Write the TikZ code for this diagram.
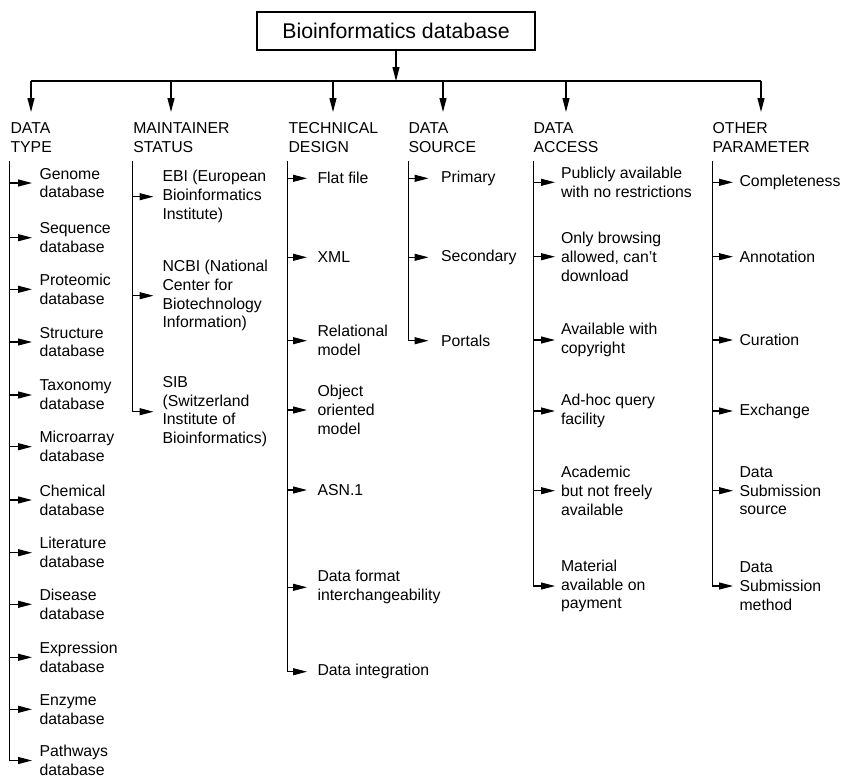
\documentclass[tikz,border=0pt]{standalone}
\usepackage{fontspec}
\setmainfont{Liberation Sans}
\usetikzlibrary{arrows.meta}

\begin{document}
\begin{tikzpicture}[x=1pt, y=-1pt, line width=1.1pt, >={Triangle[length=14pt,width=7pt]},
  every node/.style={anchor=west, align=left, inner sep=0pt, font=\fontsize{15.8}{18.8}\selectfont},
  head/.style={anchor=north west, font=\fontsize{15.8}{19}\selectfont}]
\useasboundingbox (0,0) rectangle (842,777);
\node[draw, anchor=center, minimum width=278pt, minimum height=38pt, font=\fontsize{21.3}{24}\selectfont] (root) at (396,31) {Bioinformatics database};
\coordinate (hub) at (396,81);
\coordinate (b1) at (31,81);
\coordinate (b2) at (171,81);
\coordinate (b3) at (333,81);
\coordinate (b4) at (443,81);
\coordinate (b5) at (566,81);
\coordinate (b6) at (761,81);
% column headings
\node[head] (type) at (10,122) {DATA\\TYPE};
\node[head] (maint) at (132.7,122) {MAINTAINER\\STATUS};
\node[head] (tech) at (288,122) {TECHNICAL\\DESIGN};
\node[head] (src) at (408,122) {DATA\\SOURCE};
\node[head] (acc) at (533,122) {DATA\\ACCESS};
\node[head] (oth) at (712,122) {OTHER\\PARAMETER};
\coordinate (s1) at (9.7,161);
\coordinate (s2) at (132.7,161);
\coordinate (s3) at (287.7,161);
\coordinate (s4) at (408.3,161);
\coordinate (s5) at (533.3,161);
\coordinate (s6) at (712.3,161);
% data type
\node (gen) at (39,183) {Genome\\database};
\node (seq) at (39,237.7) {Sequence\\database};
\node (prot) at (39,289.3) {Proteomic\\database};
\node (struc) at (39,342) {Structure\\database};
\node (tax) at (39,395) {Taxonomy\\database};
\node (micro) at (39,446.7) {Microarray\\database};
\node (chem) at (39,500) {Chemical\\database};
\node (lit) at (39,552.7) {Literature\\database};
\node (dis) at (39,604.3) {Disease\\database};
\node (expr) at (39,657.3) {Expression\\database};
\node (enz) at (39,709.3) {Enzyme\\database};
\node (path) at (39,760.5) {Pathways\\database};
% maintainer status
\node (ebi) at (162,196.7) {EBI (European\\Bioinformatics\\Institute)};
\node (ncbi) at (162,295.7) {NCBI (National\\Center for\\Biotechnology\\Information)};
\node (sib) at (162,411.7) {SIB\\(Switzerland\\Institute of\\Bioinformatics)};
% technical design
\node (flat) at (317,178.3) {Flat file};
\node (xml) at (317,257.3) {XML};
\node (rel) at (317,340.7) {Relational\\model};
\node (obj) at (317,410) {Object\\oriented\\model};
\node (asn) at (317,490) {ASN.1};
\node (fmt) at (317,587.3) {Data format\\interchangeability};
\node (integ) at (317,671.7) {Data integration};
% data source
\node (prim) at (440.5,178.3) {Primary};
\node (sec) at (440.5,257.3) {Secondary};
\node (port) at (440.5,340.7) {Portals};
% data access
\node (pub) at (560.5,182.3) {Publicly available\\with no restrictions};
\node (brow) at (560.5,256.7) {Only browsing\\allowed, can't\\download};
\node (copy) at (560.5,340) {Available with\\copyright};
\node (adhoc) at (560.5,411) {Ad-hoc query\\facility};
\node (acad) at (560.5,490.7) {Academic\\but not freely\\available};
\node (pay) at (560.5,586) {Material\\available on\\payment};
% other parameter
\node (comp) at (739,182.3) {Completeness};
\node (ann) at (739,256.7) {Annotation};
\node (cur) at (739,340) {Curation};
\node (exch) at (739,411) {Exchange};
\node (dsrc) at (739,490.7) {Data\\Submission\\source};
\node (dmeth) at (739,586) {Data\\Submission\\method};

\draw[->] (root) -- (hub);
\draw (b1) -- (b6);
\draw[->, shorten >=10pt] (b1) -- (b1 |- type.north);
\draw[->, shorten >=10pt] (b2) -- (b2 |- maint.north);
\draw[->, shorten >=10pt] (b3) -- (b3 |- tech.north);
\draw[->, shorten >=10pt] (b4) -- (b4 |- src.north);
\draw[->, shorten >=10pt] (b5) -- (b5 |- acc.north);
\draw[->, shorten >=10pt] (b6) -- (b6 |- oth.north);

\draw[->, shorten >=7pt] (s1) |- (path.west);
\draw[->, shorten >=7pt] (gen.west -| s1) -- (gen.west);
\draw[->, shorten >=7pt] (seq.west -| s1) -- (seq.west);
\draw[->, shorten >=7pt] (prot.west -| s1) -- (prot.west);
\draw[->, shorten >=7pt] (struc.west -| s1) -- (struc.west);
\draw[->, shorten >=7pt] (tax.west -| s1) -- (tax.west);
\draw[->, shorten >=7pt] (micro.west -| s1) -- (micro.west);
\draw[->, shorten >=7pt] (chem.west -| s1) -- (chem.west);
\draw[->, shorten >=7pt] (lit.west -| s1) -- (lit.west);
\draw[->, shorten >=7pt] (dis.west -| s1) -- (dis.west);
\draw[->, shorten >=7pt] (expr.west -| s1) -- (expr.west);
\draw[->, shorten >=7pt] (enz.west -| s1) -- (enz.west);

\draw[->, shorten >=8.5pt] (s2) |- (sib.west);
\draw[->, shorten >=8.5pt] (ebi.west -| s2) -- (ebi.west);
\draw[->, shorten >=8.5pt] (ncbi.west -| s2) -- (ncbi.west);

\draw[->, shorten >=10pt] (s3) |- (integ.west);
\draw[->, shorten >=10pt] (flat.west -| s3) -- (flat.west);
\draw[->, shorten >=10pt] (xml.west -| s3) -- (xml.west);
\draw[->, shorten >=10pt] (rel.west -| s3) -- (rel.west);
\draw[->, shorten >=10pt] (obj.west -| s3) -- (obj.west);
\draw[->, shorten >=10pt] (asn.west -| s3) -- (asn.west);
\draw[->, shorten >=10pt] (fmt.west -| s3) -- (fmt.west);

\draw[->, shorten >=12pt] (s4) |- (port.west);
\draw[->, shorten >=12pt] (prim.west -| s4) -- (prim.west);
\draw[->, shorten >=12pt] (sec.west -| s4) -- (sec.west);

\draw[->, shorten >=5.5pt] (s5) |- (pay.west);
\draw[->, shorten >=5.5pt] (pub.west -| s5) -- (pub.west);
\draw[->, shorten >=5.5pt] (brow.west -| s5) -- (brow.west);
\draw[->, shorten >=5.5pt] (copy.west -| s5) -- (copy.west);
\draw[->, shorten >=5.5pt] (adhoc.west -| s5) -- (adhoc.west);
\draw[->, shorten >=5.5pt] (acad.west -| s5) -- (acad.west);

\draw[->, shorten >=6pt] (s6) |- (dmeth.west);
\draw[->, shorten >=6pt] (comp.west -| s6) -- (comp.west);
\draw[->, shorten >=6pt] (ann.west -| s6) -- (ann.west);
\draw[->, shorten >=6pt] (cur.west -| s6) -- (cur.west);
\draw[->, shorten >=6pt] (exch.west -| s6) -- (exch.west);
\draw[->, shorten >=6pt] (dsrc.west -| s6) -- (dsrc.west);
\end{tikzpicture}
\end{document}
